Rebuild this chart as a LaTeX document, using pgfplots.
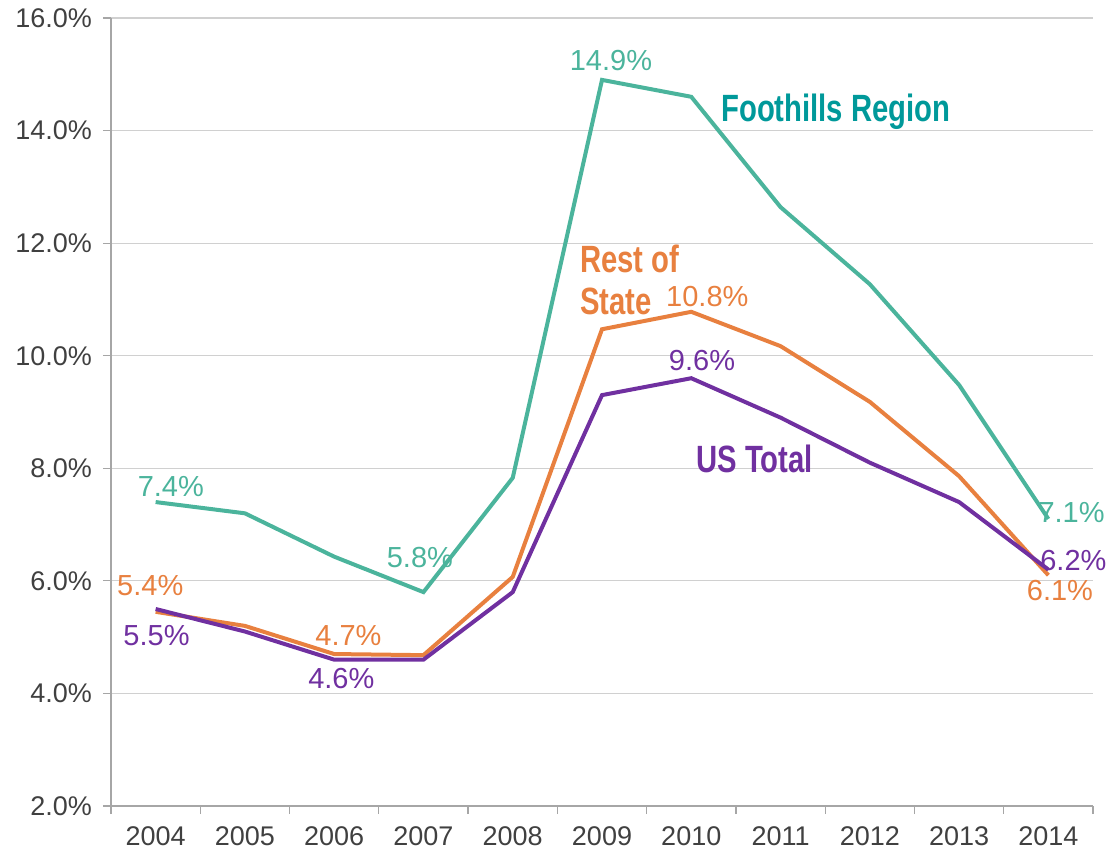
\documentclass[border=0pt]{standalone}
\usepackage{pgfplots}
\pgfplotsset{compat=1.18}
\usepackage{fontspec}
\setmainfont{Liberation Sans}
\newfontfamily\condbold[FakeStretch=0.77]{Liberation Sans}
\definecolor{teal1}{HTML}{4BB49C}
\definecolor{teallab}{HTML}{00999A}
\definecolor{orange1}{HTML}{E8803F}
\definecolor{purple1}{HTML}{7030A0}
\definecolor{ticktxt}{HTML}{404040}
\definecolor{axgrey}{HTML}{A6A6A6}
\definecolor{gridgrey}{HTML}{D0D0D0}
\begin{document}
\begin{tikzpicture}
\begin{axis}[
  scale only axis,
  width=491pt, height=394pt,
  xmin=-0.5, xmax=10.5,
  ymin=2, ymax=16,
  axis lines*=left,
  axis line style={axgrey, line width=0.6pt},
  xtick={0,...,10},
  xticklabels={2004,2005,2006,2007,2008,2009,2010,2011,2012,2013,2014},
  minor xtick={-0.5,0.5,...,10.5},
  major x tick style={draw=none},
  minor x tick style={axgrey, line width=0.6pt},
  ytick={2,4,...,16},
  y tick style={axgrey, line width=0.6pt},
  tick align=outside,
  major tick length=4pt,
  minor tick length=4pt,
  ymajorgrids,
  grid style={gridgrey, line width=0.6pt},
  /pgf/number format/assume math mode=true,
  yticklabel={\pgfmathprintnumber[fixed,fixed zerofill,precision=1]{\tick}\%},
  tick label style={font=\fontsize{13.5}{16}\selectfont, text=ticktxt},
  xticklabel style={yshift=-3pt},
  yticklabel style={xshift=-2pt},
  clip=false,
]
\coordinate (bl) at (rel axis cs:0,0);
\coordinate (tr) at (rel axis cs:1,1);
\addplot[teal1, line width=2pt] coordinates {
 (0,7.4) (1,7.2) (2,6.43) (3,5.8) (4,7.83) (5,14.9) (6,14.6) (7,12.64) (8,11.27) (9,9.48) (10,7.1)};
\addplot[orange1, line width=2pt] coordinates {
 (0,5.45) (1,5.2) (2,4.7) (3,4.68) (4,6.07) (5,10.47) (6,10.78) (7,10.17) (8,9.18) (9,7.86) (10,6.1)};
\addplot[purple1, line width=2pt] coordinates {
 (0,5.5) (1,5.1) (2,4.6) (3,4.6) (4,5.8) (5,9.3) (6,9.6) (7,8.9) (8,8.1) (9,7.4) (10,6.2)};
\begin{scope}[every node/.style={font=\fontsize{14.5}{17}\selectfont}]
\node[teal1] at (axis cs:0.17,7.67) {7.4\%};
\node[teal1] at (axis cs:2.96,6.41) {5.8\%};
\node[teal1] at (axis cs:5.10,15.25) {14.9\%};
\node[teal1] at (axis cs:10.26,7.22) {7.1\%};
\node[orange1] at (axis cs:-0.06,5.91) {5.4\%};
\node[orange1] at (axis cs:2.16,5.02) {4.7\%};
\node[orange1] at (axis cs:6.18,11.06) {10.8\%};
\node[orange1] at (axis cs:10.13,5.82) {6.1\%};
\node[purple1] at (axis cs:0.01,5.02) {5.5\%};
\node[purple1] at (axis cs:2.08,4.26) {4.6\%};
\node[purple1] at (axis cs:6.12,9.92) {9.6\%};
\node[purple1] at (axis cs:10.28,6.37) {6.2\%};
\end{scope}
\node[teallab, font=\condbold\bfseries\fontsize{19}{22}\selectfont] at (axis cs:7.62,14.33) {Foothills Region};
\node[orange1, anchor=west, align=left, inner sep=0pt, font=\condbold\bfseries\fontsize{19}{21}\selectfont] at (axis cs:4.75,11.34) {Rest of\\State};
\node[purple1, font=\condbold\bfseries\fontsize{19}{22}\selectfont] at (axis cs:6.71,8.16) {US Total};
\end{axis}
\pgfresetboundingbox
\useasboundingbox ([shift={(-55.5pt,-23pt)}]bl) rectangle ([shift={(9pt,9pt)}]tr);
\end{tikzpicture}
\end{document}
